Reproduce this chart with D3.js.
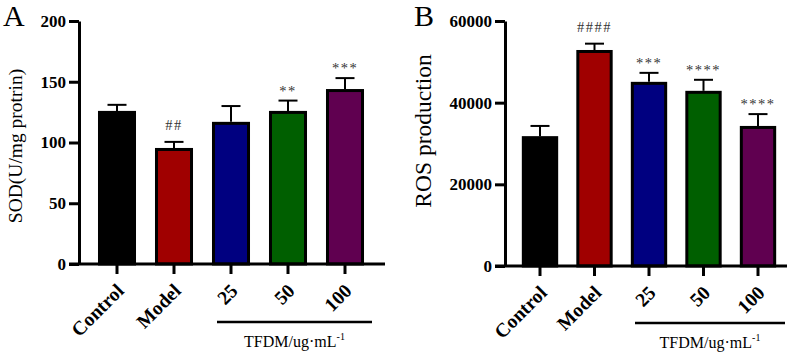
<!DOCTYPE html>
<html>
<head>
<meta charset="utf-8">
<script src="https://cdn.jsdelivr.net/npm/d3@7"></script>
<style>
  body { margin: 0; background: #fff; }
  svg { display: block; }
</style>
</head>
<body>
<svg id="chart" width="797" height="352"></svg>
<script>
// 组别
const groups = ["Control", "Model", "25", "50", "100"];
const barColors = ["#000000", "#a00000", "#000080", "#005f00", "#600050"];

// A: SOD
const sodMean = [126, 95.5, 117, 126, 144];
const sodErr = [5, 5, 13, 8.5, 9];
const sodTicks = [0, 50, 100, 150, 200];
const sodMarks = ["", "##", "", "**", "***"];

// B: ROS
const rosMean = [31800, 52900, 45100, 42900, 34300];
const rosErr = [2500, 1550, 2200, 2700, 2900];
const rosTicks = [0, 20000, 40000, 60000];
const rosMarks = ["", "####", "***", "****", "****"];

const svg = d3.select("#chart");
const serif = "'Liberation Serif', 'Times New Roman', serif";

function drawPanel(p) {
  const g = svg.append("g");

  const x = d3.scaleBand()
    .domain(groups)
    .range(p.xRange)
    .paddingInner(0.333)
    .paddingOuter(0.1665);

  const y = d3.scaleLinear()
    .domain([0, p.yMax])
    .range([p.y0, p.yTop]);

  // 柱子
  g.selectAll("rect.bar")
    .data(p.mean)
    .enter()
    .append("rect")
    .attr("class", "bar")
    .attr("x", (d, i) => x(groups[i]) + 1.5)
    .attr("y", d => y(d) + 1.5)
    .attr("width", x.bandwidth() - 3)
    .attr("height", d => y(0) - y(d) - 1.5)
    .attr("fill", (d, i) => barColors[i])
    .attr("stroke", "#000")
    .attr("stroke-width", 3);

  // 误差线（只画上半）
  const err = g.selectAll("g.err")
    .data(p.mean)
    .enter()
    .append("g")
    .attr("class", "err");
  err.append("line")
    .attr("x1", (d, i) => x(groups[i]) + x.bandwidth() / 2)
    .attr("x2", (d, i) => x(groups[i]) + x.bandwidth() / 2)
    .attr("y1", d => y(d))
    .attr("y2", (d, i) => y(d + p.err[i]))
    .attr("stroke", "#000")
    .attr("stroke-width", 2);
  err.append("line")
    .attr("x1", (d, i) => x(groups[i]) + x.bandwidth() / 2 - 9.5)
    .attr("x2", (d, i) => x(groups[i]) + x.bandwidth() / 2 + 9.5)
    .attr("y1", (d, i) => y(d + p.err[i]))
    .attr("y2", (d, i) => y(d + p.err[i]))
    .attr("stroke", "#000")
    .attr("stroke-width", 2);

  // 显著性标记
  g.selectAll("text.mark")
    .data(p.mean)
    .enter()
    .append("text")
    .attr("class", "mark")
    .attr("x", (d, i) => x(groups[i]) + x.bandwidth() / 2)
    .attr("y", (d, i) => y(d + p.err[i]) - (p.marks[i].startsWith("#") ? 12 : 5))
    .attr("text-anchor", "middle")
    .attr("font-family", serif)
    .attr("font-size", 14.5)
    .attr("letter-spacing", 1.5)
    .attr("fill", "#333")
    .text((d, i) => p.marks[i]);

  // y 轴
  const yAxis = d3.axisLeft(y)
    .tickValues(p.ticks)
    .tickFormat(d3.format("d"))
    .tickSize(10)
    .tickSizeOuter(0)
    .tickPadding(3);
  const ya = g.append("g")
    .attr("transform", `translate(${p.axisX},0)`)
    .call(yAxis);
  ya.select("path.domain").attr("stroke", "#000").attr("stroke-width", 3);
  ya.selectAll(".tick line").attr("stroke", "#000").attr("stroke-width", 3);
  ya.selectAll(".tick text")
    .attr("font-family", serif)
    .attr("font-size", 17)
    .attr("font-weight", "bold")
    .attr("fill", "#000");

  // x 轴线
  g.append("line")
    .attr("x1", p.axisX - 10)
    .attr("x2", p.xAxisEnd)
    .attr("y1", y(0))
    .attr("y2", y(0))
    .attr("stroke", "#000")
    .attr("stroke-width", 3);

  // x 刻度 + 旋转标签
  const xt = g.selectAll("g.xtick")
    .data(groups)
    .enter()
    .append("g")
    .attr("class", "xtick")
    .attr("transform", d => `translate(${x(d) + x.bandwidth() / 2},${y(0)})`);
  xt.append("line")
    .attr("y1", 0)
    .attr("y2", 10)
    .attr("stroke", "#000")
    .attr("stroke-width", 3);
  xt.append("text")
    .attr("transform", "translate(8,28) rotate(-45)")
    .attr("text-anchor", "end")
    .attr("font-family", serif)
    .attr("font-size", 19.5)
    .attr("font-weight", "bold")
    .text(d => d);

  // TFDM 下划线和说明
  const x25 = x("25") + x.bandwidth() / 2;
  const x100 = x("100") + x.bandwidth() / 2;
  g.append("line")
    .attr("x1", x25 - p.lineLeft)
    .attr("x2", x100 + p.lineRight)
    .attr("y1", p.lineY)
    .attr("y2", p.lineY)
    .attr("stroke", "#000")
    .attr("stroke-width", 2.5);
  const t = g.append("text")
    .attr("x", (x25 - p.lineLeft + x100 + p.lineRight) / 2)
    .attr("y", p.lineY + 25)
    .attr("text-anchor", "middle")
    .attr("font-family", serif)
    .attr("font-size", 16);
  t.append("tspan").text("TFDM/ug·mL");
  t.append("tspan").attr("font-size", 10).attr("dy", -7).text("-1");

  // y 轴标题
  g.append("text")
    .attr("transform", `translate(${p.labelX},${p.labelY}) rotate(-90)`)
    .attr("text-anchor", "middle")
    .attr("font-family", serif)
    .attr("font-size", p.labelSize)
    .text(p.yLabel);

  // 面板字母
  g.append("text")
    .attr("x", p.letterX)
    .attr("y", 26)
    .attr("font-family", serif)
    .attr("font-size", 30)
    .text(p.letter);
}

drawPanel({
  letter: "A", letterX: 3,
  mean: sodMean, err: sodErr, marks: sodMarks, ticks: sodTicks,
  yMax: 200, y0: 264, yTop: 21,
  xRange: [88.5, 373.5], axisX: 79, xAxisEnd: 385,
  lineLeft: 14, lineRight: 27, lineY: 322,
  labelX: 22, labelY: 146, labelSize: 19.5, yLabel: "SOD(U/mg protrin)"
});

drawPanel({
  letter: "B", letterX: 414,
  mean: rosMean, err: rosErr, marks: rosMarks, ticks: rosTicks,
  yMax: 60000, y0: 266, yTop: 21,
  xRange: [512.75, 785.25], axisX: 505, xAxisEnd: 787,
  lineLeft: 14, lineRight: 27, lineY: 323,
  labelX: 431, labelY: 131, labelSize: 23.5, yLabel: "ROS production"
});
</script>
</body>
</html>
